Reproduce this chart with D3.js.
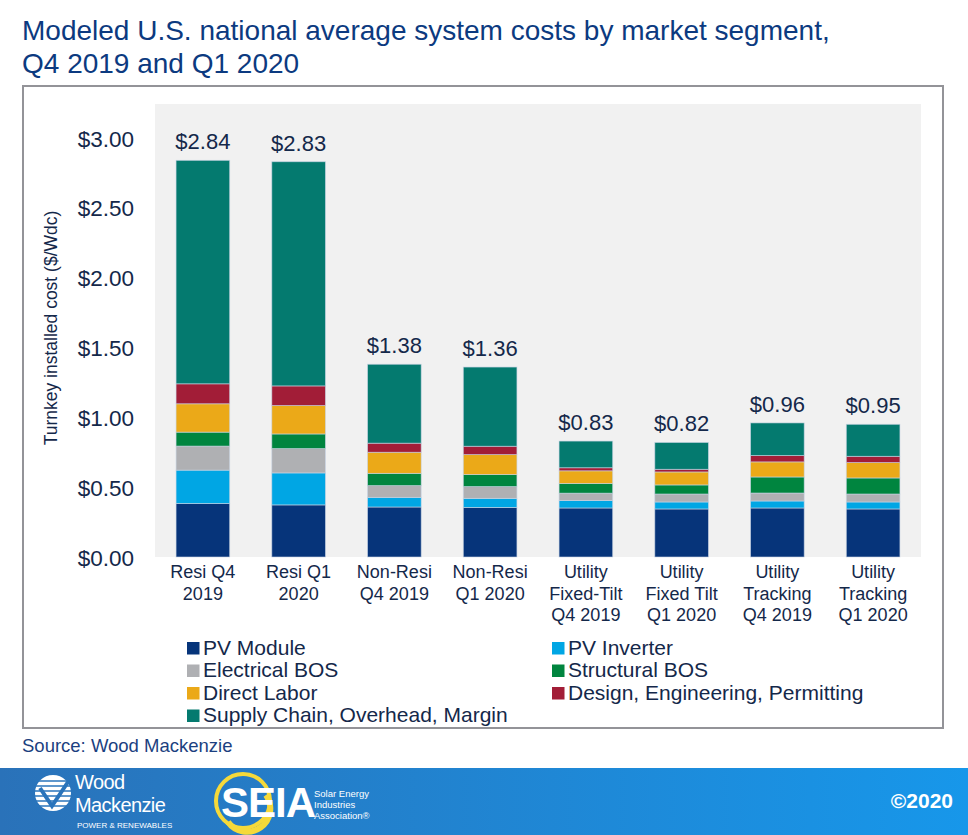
<!DOCTYPE html>
<html>
<head>
<meta charset="utf-8">
<script src="https://cdn.jsdelivr.net/npm/d3@7"></script>
<style>
  html, body { margin: 0; padding: 0; background: #ffffff; }
  svg { display: block; font-family: "Liberation Sans", Arial, sans-serif; }
</style>
</head>
<body>
<svg id="chart" width="968" height="835"></svg>
<script>
// ---------- DATA ----------
const categories = ["Resi Q4 2019", "Resi Q1 2020", "Non-Resi Q4 2019", "Non-Resi Q1 2020",
  "Utility Fixed-Tilt Q4 2019", "Utility Fixed Tilt Q1 2020", "Utility Tracking Q4 2019", "Utility Tracking Q1 2020"];
const categoryLines = [
  ["Resi Q4", "2019"], ["Resi Q1", "2020"], ["Non-Resi", "Q4 2019"], ["Non-Resi", "Q1 2020"],
  ["Utility", "Fixed-Tilt", "Q4 2019"], ["Utility", "Fixed Tilt", "Q1 2020"],
  ["Utility", "Tracking", "Q4 2019"], ["Utility", "Tracking", "Q1 2020"]
];
const seriesNames = ["PV Module", "PV Inverter", "Electrical BOS", "Structural BOS",
  "Direct Labor", "Design, Engineering, Permitting", "Supply Chain, Overhead, Margin"];
const pvModule      = [0.383, 0.373, 0.358, 0.355, 0.351, 0.344, 0.351, 0.344];
const pvInverter    = [0.239, 0.229, 0.069, 0.065, 0.053, 0.050, 0.050, 0.050];
const electricalBOS = [0.172, 0.174, 0.084, 0.084, 0.053, 0.057, 0.057, 0.057];
const structuralBOS = [0.100, 0.105, 0.088, 0.086, 0.069, 0.065, 0.115, 0.115];
const directLabor   = [0.203, 0.203, 0.151, 0.143, 0.091, 0.093, 0.108, 0.110];
const designEng     = [0.143, 0.141, 0.065, 0.060, 0.022, 0.019, 0.045, 0.045];
const supplyChain   = [1.600, 1.605, 0.565, 0.567, 0.191, 0.192, 0.234, 0.229];
const totals        = [2.84, 2.83, 1.38, 1.36, 0.83, 0.82, 0.96, 0.95];
const yTicks        = [0, 0.5, 1.0, 1.5, 2.0, 2.5, 3.0];
const seriesValues = [pvModule, pvInverter, electricalBOS, structuralBOS, directLabor, designEng, supplyChain];
const colors = ["#06347a", "#00a6e4", "#afb0b3", "#00853f", "#eba918", "#a21d37", "#047a6f"];

// ---------- SETUP ----------
const svg = d3.select("#chart");
const textColor = "#14284a";
const titleColor = "#0c3a80";

// Title
svg.append("text").attr("x", 22).attr("y", 40).attr("font-size", 28).attr("fill", titleColor)
  .text("Modeled U.S. national average system costs by market segment,");
svg.append("text").attr("x", 22).attr("y", 73).attr("font-size", 28).attr("fill", titleColor)
  .text("Q4 2019 and Q1 2020");

// Frame
svg.append("rect").attr("x", 23).attr("y", 86).attr("width", 920).attr("height", 642)
  .attr("fill", "#ffffff").attr("stroke", "#939398").attr("stroke-width", 2);

// Plot background
const plotLeft = 155, plotRight = 921, plotTop = 104, plotBottom = 557;
svg.append("rect").attr("x", plotLeft).attr("y", plotTop)
  .attr("width", plotRight - plotLeft).attr("height", plotBottom - plotTop).attr("fill", "#f1f1f1");

// Scales
const x = d3.scaleBand().domain(categories).range([plotLeft, plotRight])
  .paddingInner(0.44).paddingOuter(0.22);
const y = d3.scaleLinear().domain([0, 3]).range([plotBottom, 138]);

// Stack
const rows = categories.map((c, i) => {
  const r = { cat: c };
  seriesNames.forEach((s, k) => r[s] = seriesValues[k][i]);
  return r;
});
const stacked = d3.stack().keys(seriesNames)(rows);

const layers = svg.append("g").selectAll("g").data(stacked).join("g")
  .attr("fill", (d, i) => colors[i]);
layers.selectAll("rect").data(d => d).join("rect")
  .attr("x", d => x(d.data.cat))
  .attr("width", x.bandwidth())
  .attr("y", d => y(d[1]))
  .attr("height", d => y(d[0]) - y(d[1]))
  .attr("stroke", "rgba(200,212,228,0.75)")
  .attr("stroke-width", 0.8);

// Y axis (labels only)
const yAxis = d3.axisLeft(y).tickValues(yTicks).tickSize(0).tickPadding(0)
  .tickFormat(d => "$" + d3.format(".2f")(d));
const gy = svg.append("g").attr("transform", "translate(134,0)").call(yAxis);
gy.select(".domain").remove();
gy.selectAll("text").attr("font-size", 22.5).attr("fill", textColor)
  .attr("font-family", "Liberation Sans, Arial, sans-serif").attr("dy", "0.36em");

// Y axis title
svg.append("text")
  .attr("transform", "translate(57,328) rotate(-90)")
  .attr("text-anchor", "middle").attr("font-size", 17.5).attr("fill", textColor)
  .text("Turnkey installed cost ($/Wdc)");

// X category labels
const xl = svg.append("g").selectAll("text").data(categories).join("text")
  .attr("text-anchor", "middle").attr("font-size", 18).attr("fill", textColor)
  .attr("transform", d => `translate(${x(d) + x.bandwidth() / 2},578)`);
xl.each(function (d, i) {
  d3.select(this).selectAll("tspan").data(categoryLines[i]).join("tspan")
    .attr("x", 0).attr("y", (t, j) => j * 21.5).text(t => t);
});

// Total labels
svg.append("g").selectAll("text").data(categories).join("text")
  .attr("x", d => x(d) + x.bandwidth() / 2)
  .attr("y", (d, i) => y(totals[i]) - 11)
  .attr("text-anchor", "middle").attr("font-size", 22).attr("fill", textColor)
  .text((d, i) => "$" + d3.format(".2f")(totals[i]));

// Legend
const legendPos = [
  [187, 654], [552, 654], [187, 676.5], [552, 676.5], [187, 699], [552, 699], [187, 721.5]
];
const lg = svg.append("g").selectAll("g").data(seriesNames).join("g")
  .attr("transform", (d, i) => `translate(${legendPos[i][0]},${legendPos[i][1]})`);
lg.append("rect").attr("x", 0).attr("y", -12).attr("width", 12.5).attr("height", 12.5)
  .attr("fill", (d, i) => colors[i]);
lg.append("text").attr("x", 16).attr("y", 0.5).attr("font-size", 21).attr("fill", textColor)
  .text(d => d);

// Source
svg.append("text").attr("x", 22).attr("y", 752).attr("font-size", 18.5).attr("fill", "#1b3f80")
  .text("Source: Wood Mackenzie");

// Footer band
const defs = svg.append("defs");
const grad = defs.append("linearGradient").attr("id", "footerGrad")
  .attr("x1", "0%").attr("x2", "100%").attr("y1", "0%").attr("y2", "0%");
grad.append("stop").attr("offset", "0%").attr("stop-color", "#2a72b9");
grad.append("stop").attr("offset", "100%").attr("stop-color", "#1797ea");
svg.append("rect").attr("x", 0).attr("y", 768).attr("width", 968).attr("height", 67)
  .attr("fill", "url(#footerGrad)");

// Wood Mackenzie logo (approximation)
const wm = svg.append("g");
wm.append("circle").attr("cx", 53).attr("cy", 793).attr("r", 18).attr("fill", "#ffffff");
[-12, -7, -2, 3, 8, 13].forEach(dy => {
  wm.append("line").attr("x1", 35).attr("x2", 71).attr("y1", 793 + dy).attr("y2", 793 + dy)
    .attr("stroke", "#2a74bb").attr("stroke-width", 1.6);
});
wm.append("path").attr("d", "M40,788 L52,806 L68,782").attr("fill", "none")
  .attr("stroke", "#2a74bb").attr("stroke-width", 4);
wm.append("text").attr("x", 75).attr("y", 789).attr("font-size", 20).attr("fill", "#ffffff")
  .attr("letter-spacing", -0.6).text("Wood");
wm.append("text").attr("x", 75).attr("y", 812).attr("font-size", 20).attr("fill", "#ffffff")
  .attr("letter-spacing", -0.6).text("Mackenzie");
wm.append("text").attr("x", 77).attr("y", 828).attr("font-size", 8).attr("fill", "#ffffff")
  .text("POWER & RENEWABLES");

// SEIA logo (approximation)
const se = svg.append("g");
se.append("circle").attr("cx", 243).attr("cy", 801).attr("r", 27).attr("fill", "none")
  .attr("stroke", "#f5d93a").attr("stroke-width", 4);
se.append("path").attr("d", "M228,822 A22,22 0 0 0 266,795").attr("fill", "none")
  .attr("stroke", "#f5d93a").attr("stroke-width", 6);
se.append("text").attr("x", 221).attr("y", 817).attr("font-size", 42).attr("font-weight", "bold")
  .attr("fill", "#ffffff").attr("letter-spacing", -1).text("SEIA");
const seSub = se.append("text").attr("font-size", 9.5).attr("fill", "#ffffff");
seSub.append("tspan").attr("x", 314).attr("y", 797).text("Solar Energy");
seSub.append("tspan").attr("x", 314).attr("y", 808).text("Industries");
seSub.append("tspan").attr("x", 314).attr("y", 819).text("Association®");

// Copyright
svg.append("text").attr("x", 953).attr("y", 808).attr("text-anchor", "end")
  .attr("font-size", 21).attr("font-weight", "bold").attr("fill", "#ffffff").text("©2020");
</script>
</body>
</html>
